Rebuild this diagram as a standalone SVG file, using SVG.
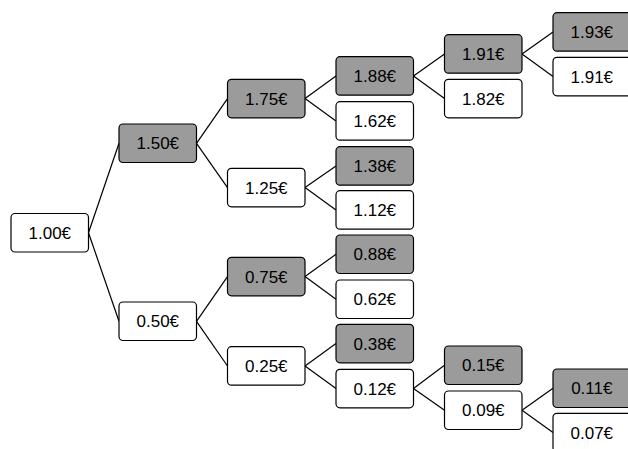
<svg xmlns="http://www.w3.org/2000/svg" width="628" height="449" viewBox="0 0 628 449">
<style>
rect{stroke:#000;stroke-width:1.2;fill:#fff}
.g rect{fill:#9b9b9b}
text{font-family:"Liberation Sans",Arial,sans-serif;font-size:17px;fill:#000;text-anchor:middle}
#edges line{stroke:#000;stroke-width:1.2}
</style>
<rect x="0" y="0" width="628" height="449" style="fill:#fff;stroke:none"/>
<g id="edges">
<line x1="88.5" y1="232.8" x2="119" y2="143.3"/>
<line x1="88.5" y1="232.8" x2="119" y2="321.3"/>
<line x1="196.5" y1="143.3" x2="227.5" y2="98.6"/>
<line x1="196.5" y1="143.3" x2="227.5" y2="187.6"/>
<line x1="196.5" y1="321.3" x2="227.5" y2="276.6"/>
<line x1="196.5" y1="321.3" x2="227.5" y2="366"/>
<line x1="305" y1="98.6" x2="336" y2="76"/>
<line x1="305" y1="98.6" x2="336" y2="121"/>
<line x1="305" y1="187.6" x2="336" y2="166"/>
<line x1="305" y1="187.6" x2="336" y2="210"/>
<line x1="305" y1="276.6" x2="336" y2="254.3"/>
<line x1="305" y1="276.6" x2="336" y2="299.3"/>
<line x1="305" y1="366" x2="336" y2="343.6"/>
<line x1="305" y1="366" x2="336" y2="388.6"/>
<line x1="413.5" y1="76" x2="444.5" y2="54"/>
<line x1="413.5" y1="76" x2="444.5" y2="98.6"/>
<line x1="413.5" y1="388.6" x2="444.5" y2="365.3"/>
<line x1="413.5" y1="388.6" x2="444.5" y2="410.3"/>
<line x1="522" y1="54" x2="553" y2="32"/>
<line x1="522" y1="54" x2="553" y2="76.6"/>
<line x1="522" y1="410.3" x2="553" y2="388.3"/>
<line x1="522" y1="410.3" x2="553" y2="432.6"/>
</g>
<g id="n100"><rect x="11" y="213.5" width="77.5" height="38.5" rx="4"/><text x="49.8" y="238.8">1.00€</text></g>
<g id="n150" class="g"><rect x="119" y="124" width="77.5" height="38.5" rx="4"/><text x="157.8" y="149.3">1.50€</text></g>
<g id="n050"><rect x="119" y="302" width="77.5" height="38.5" rx="4"/><text x="157.8" y="327.3">0.50€</text></g>
<g id="n175" class="g"><rect x="227.5" y="79.3" width="77.5" height="38.5" rx="4"/><text x="266.3" y="104.6">1.75€</text></g>
<g id="n125"><rect x="227.5" y="168.3" width="77.5" height="38.5" rx="4"/><text x="266.3" y="193.6">1.25€</text></g>
<g id="n075" class="g"><rect x="227.5" y="257.3" width="77.5" height="38.5" rx="4"/><text x="266.3" y="282.6">0.75€</text></g>
<g id="n025"><rect x="227.5" y="346.7" width="77.5" height="38.5" rx="4"/><text x="266.3" y="372">0.25€</text></g>
<g id="n188" class="g"><rect x="336" y="56.7" width="77.5" height="38.5" rx="4"/><text x="374.8" y="82">1.88€</text></g>
<g id="n162"><rect x="336" y="101.7" width="77.5" height="38.5" rx="4"/><text x="374.8" y="127">1.62€</text></g>
<g id="n138" class="g"><rect x="336" y="146.7" width="77.5" height="38.5" rx="4"/><text x="374.8" y="172">1.38€</text></g>
<g id="n112"><rect x="336" y="190.7" width="77.5" height="38.5" rx="4"/><text x="374.8" y="216">1.12€</text></g>
<g id="n088" class="g"><rect x="336" y="235" width="77.5" height="38.5" rx="4"/><text x="374.8" y="260.3">0.88€</text></g>
<g id="n062"><rect x="336" y="280" width="77.5" height="38.5" rx="4"/><text x="374.8" y="305.3">0.62€</text></g>
<g id="n038" class="g"><rect x="336" y="324.3" width="77.5" height="38.5" rx="4"/><text x="374.8" y="349.6">0.38€</text></g>
<g id="n012"><rect x="336" y="369.3" width="77.5" height="38.5" rx="4"/><text x="374.8" y="394.6">0.12€</text></g>
<g id="n191a" class="g"><rect x="444.5" y="34.7" width="77.5" height="38.5" rx="4"/><text x="483.3" y="60">1.91€</text></g>
<g id="n182"><rect x="444.5" y="79.3" width="77.5" height="38.5" rx="4"/><text x="483.3" y="104.6">1.82€</text></g>
<g id="n015" class="g"><rect x="444.5" y="346" width="77.5" height="38.5" rx="4"/><text x="483.3" y="371.3">0.15€</text></g>
<g id="n009"><rect x="444.5" y="391" width="77.5" height="38.5" rx="4"/><text x="483.3" y="416.3">0.09€</text></g>
<g id="n193" class="g"><rect x="553" y="12.7" width="80" height="38.5" rx="4"/><text x="591.8" y="38">1.93€</text></g>
<g id="n191b"><rect x="553" y="57.3" width="80" height="38.5" rx="4"/><text x="591.8" y="82.6">1.91€</text></g>
<g id="n011" class="g"><rect x="553" y="369" width="80" height="38.5" rx="4"/><text x="591.8" y="394.3">0.11€</text></g>
<g id="n007"><rect x="553" y="413.3" width="80" height="38.5" rx="4"/><text x="591.8" y="438.6">0.07€</text></g>
</svg>
